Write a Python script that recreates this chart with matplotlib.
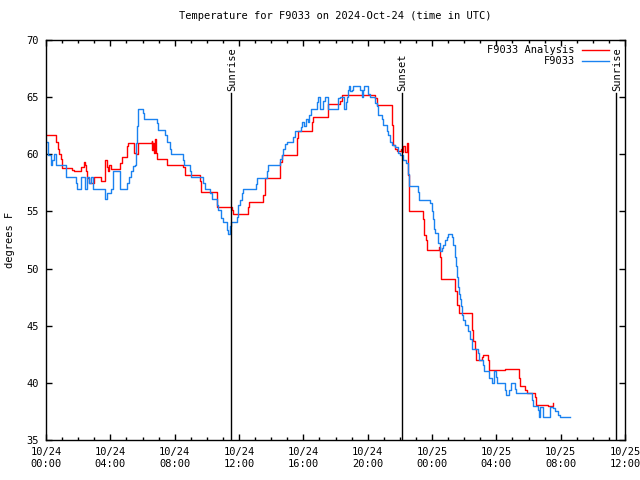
import matplotlib
matplotlib.use("Agg")
import matplotlib.pyplot as plt
from matplotlib.ticker import MultipleLocator, FixedLocator
from datetime import datetime, timedelta

# hours after 2024-10-24 00:00 UTC, temperature in degrees F
obs_hours = [0.04, 0.10, 0.29, 0.37, 0.50, 0.62, 1.24, 1.84, 1.95, 2.20,
             2.40, 2.53, 2.67, 2.78, 2.94, 3.67, 3.81, 4.02, 4.17, 4.60,
             5.06, 5.16, 5.31, 5.43, 5.53, 5.60, 5.66, 5.74, 6.05, 6.11,
             6.88, 6.98, 7.40, 7.50, 7.71, 7.77, 8.54, 8.60, 8.95, 9.02,
             9.78, 9.89, 10.20, 10.30, 10.61, 10.67, 10.88, 11.03, 11.23, 11.30,
             11.44, 11.50, 11.86, 11.92, 11.96, 12.06, 12.17, 12.27, 13.04, 13.10,
             13.72, 13.82, 14.55, 14.65, 14.76, 14.86, 14.96, 15.38, 15.48, 15.86,
             15.94, 16.06, 16.15, 16.27, 16.35, 16.46, 16.83, 16.93, 17.04, 17.25,
             17.35, 17.56, 18.18, 18.28, 18.55, 18.64, 18.70, 18.80, 18.86, 18.91,
             19.01, 19.11, 19.53, 19.63, 19.74, 19.80, 20.05, 20.15, 20.46, 20.56,
             20.67, 20.88, 20.98, 21.19, 21.29, 21.39, 21.50, 21.70, 21.91, 22.01,
             22.22, 22.36, 22.49, 22.57, 23.15, 23.21, 23.88, 23.98, 24.04, 24.12,
             24.19, 24.35, 24.50, 24.60, 24.71, 24.81, 24.91, 24.97, 25.22, 25.29,
             25.43, 25.49, 25.53, 25.60, 25.68, 25.74, 25.80, 25.85, 25.95, 26.05,
             26.22, 26.36, 26.51, 26.84, 26.92, 27.15, 27.23, 27.56, 27.71, 27.81,
             27.87, 27.98, 28.06, 28.54, 28.60, 28.81, 28.89, 29.16, 29.22, 30.19,
             30.26, 30.61, 30.65, 30.71, 30.82, 30.88, 31.33, 31.50, 31.64, 31.85,
             31.96, 32.58]
obs_temps = [61.1, 59.9, 59.1, 59.5, 60.0, 59.1, 58.0, 57.5, 57.0, 58.0,
             57.0, 58.0, 57.5, 58.0, 57.0, 56.1, 56.6, 57.0, 58.5, 57.0,
             57.5, 58.0, 58.5, 59.0, 59.1, 61.0, 62.5, 64.0, 63.6, 63.1,
             62.7, 62.1, 61.7, 61.1, 60.5, 60.0, 59.5, 59.1, 58.5, 58.0,
             57.5, 57.0, 56.6, 56.1, 55.6, 55.1, 54.4, 54.1, 53.4, 53.0,
             53.7, 54.1, 54.5, 55.0, 55.6, 56.0, 56.6, 57.0, 57.4, 57.9,
             58.5, 59.1, 59.6, 59.9, 60.5, 60.9, 61.1, 61.5, 62.0, 62.4,
             62.8, 62.5, 63.1, 62.8, 63.4, 64.0, 64.6, 65.0, 64.0, 64.7,
             65.0, 64.0, 64.9, 65.0, 64.0, 64.6, 65.0, 65.6, 66.0, 65.5,
             65.6, 66.0, 65.6, 65.0, 65.6, 66.0, 65.3, 65.0, 64.5, 64.2,
             63.4, 63.1, 62.6, 62.0, 61.7, 61.1, 60.8, 60.6, 60.1, 59.9,
             59.5, 59.2, 58.3, 57.2, 56.7, 56.0, 55.7, 55.0, 54.3, 53.5,
             53.1, 52.2, 51.5, 51.8, 52.1, 52.5, 52.8, 53.0, 52.8, 52.1,
             51.0, 50.2, 49.3, 48.4, 47.8, 47.3, 46.7, 45.9, 45.5, 45.1,
             44.5, 43.8, 43.0, 42.6, 42.0, 41.6, 41.0, 40.4, 40.0, 40.0,
             41.0, 40.5, 40.0, 39.4, 38.9, 39.4, 40.0, 39.5, 39.1, 38.5,
             38.0, 37.6, 37.0, 37.9, 37.9, 37.0, 37.9, 37.8, 37.5, 37.2,
             37.0, 37.0]

ana_hours = [0.04, 0.60, 0.75, 0.81, 0.91, 1.02, 1.64, 1.74, 2.16, 2.36,
             2.40, 2.47, 2.57, 2.67, 2.98, 3.44, 3.67, 3.81, 3.85, 3.92,
             4.02, 4.60, 4.70, 5.02, 5.10, 5.47, 5.60, 5.70, 5.74, 6.57,
             6.61, 6.67, 6.73, 6.77, 6.81, 6.88, 7.54, 8.54, 8.64, 9.57,
             9.63, 10.61, 11.54, 11.64, 12.54, 12.62, 13.51, 13.62, 14.55, 14.65,
             15.59, 15.65, 16.52, 16.58, 17.52, 17.56, 18.28, 18.43, 20.46, 20.56,
             21.50, 21.56, 21.60, 21.70, 21.81, 22.08, 22.16, 22.22, 22.33, 22.43,
             22.49, 22.53, 22.57, 22.59, 23.46, 23.52, 23.63, 23.69, 24.44, 24.50,
             24.56, 25.43, 25.53, 25.68, 26.47, 26.57, 26.67, 26.74, 27.13, 27.19,
             27.50, 27.56, 28.54, 29.43, 29.47, 29.78, 29.88, 30.40, 30.46, 31.23,
             31.52]
ana_temps = [61.7, 61.1, 60.5, 60.0, 59.6, 58.8, 58.6, 58.5, 58.9, 59.3,
             59.1, 58.5, 57.9, 57.5, 58.0, 57.7, 59.5, 58.9, 58.5, 59.1,
             58.7, 59.2, 59.8, 60.7, 61.0, 60.1, 60.0, 60.5, 61.0, 61.2,
             60.4, 61.0, 60.1, 61.3, 60.1, 59.6, 59.1, 58.9, 58.2, 57.7,
             56.7, 55.4, 55.1, 54.8, 55.4, 55.8, 56.4, 57.9, 59.3, 59.9,
             61.4, 62.0, 62.8, 63.3, 63.8, 64.4, 64.7, 65.2, 64.9, 64.3,
             62.6, 61.5, 60.8, 60.5, 60.3, 60.5, 60.2, 60.7, 60.2, 61.0,
             59.6, 58.2, 57.2, 55.0, 54.3, 52.9, 52.5, 51.6, 51.9, 51.0,
             49.1, 48.0, 46.8, 46.1, 44.6, 43.7, 43.0, 42.0, 42.3, 42.4,
             42.0, 41.1, 41.2, 40.4, 39.7, 39.4, 39.1, 38.8, 38.1, 38.0,
             38.2]

event_hours = [11.50, 22.13, 35.45]
event_names = ["Sunrise", "Sunset", "Sunrise"]

start = datetime(2024, 10, 24, 0, 0)
mono = "DejaVu Sans Mono"
fs = 7.5

fig = plt.figure(figsize=(6.4, 4.8), dpi=100)
ax = fig.add_axes([46 / 640, 40 / 480, 579 / 640, 400 / 480])

ax.plot(ana_hours, ana_temps, drawstyle="steps-post", color="#ff0000",
        lw=1.0, label="F9033 Analysis")
ax.plot(obs_hours, obs_temps, drawstyle="steps-post", color="#1a82f0",
        lw=1.0, label="F9033")

top_frac = 0.867
for h, name in zip(event_hours, event_names):
    ax.axvline(h, ymin=0, ymax=top_frac, color="black", lw=1.0)
    ax.text(h + 0.05, 35 + 35 * (top_frac + 0.005), name, rotation=90,
            ha="center", va="bottom", fontsize=fs, family=mono)

ax.set_xlim(0, 36)
ax.set_ylim(35, 70)
xt = list(range(0, 37, 4))
ax.xaxis.set_major_locator(FixedLocator(xt))
ax.xaxis.set_minor_locator(MultipleLocator(1))
ax.set_xticklabels([(start + timedelta(hours=h)).strftime("%m/%d\n%H:%M")
                    for h in xt])
ax.yaxis.set_major_locator(MultipleLocator(5))
ax.tick_params(which="both", direction="in", top=True, right=True,
               labelsize=fs, width=1.0)
ax.tick_params(which="major", length=4, pad=5)
ax.tick_params(which="minor", length=2)
for lab in ax.get_xticklabels() + ax.get_yticklabels():
    lab.set_family(mono)
for sp in ax.spines.values():
    sp.set_linewidth(1.0)

ax.set_ylabel("degrees F", family=mono, fontsize=fs, labelpad=8)
ax.set_title("Temperature for F9033 on 2024-Oct-24 (time in UTC)",
             family=mono, fontsize=fs, pad=15)

ax.legend(loc="upper right", frameon=False, markerfirst=False,
          prop={"family": mono, "size": fs}, handlelength=2.6,
          handletextpad=0.7, borderaxespad=0.1, labelspacing=0.1,
          bbox_to_anchor=(0.9815, 1.0))

fig.savefig("out.png", dpi=100)
